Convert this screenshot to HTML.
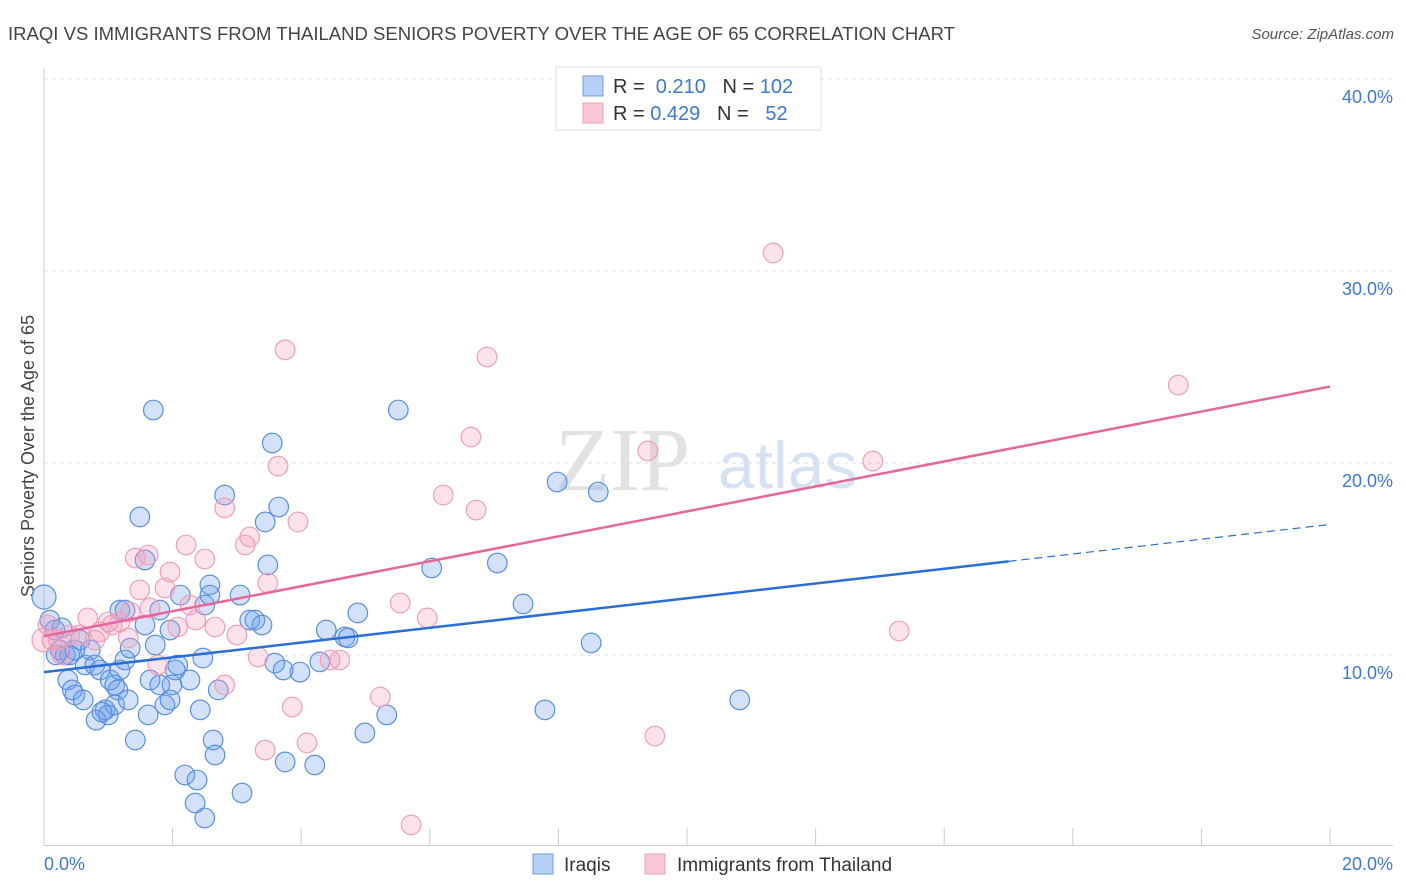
<!DOCTYPE html>
<html><head><meta charset="utf-8"><style>
body{margin:0;background:#fff;font-family:"Liberation Sans",sans-serif;}
svg{display:block}
</style></head><body>
<svg id="chart" width="1406" height="892">
<text x="8" y="40" font-size="18" fill="#444" textLength="947" lengthAdjust="spacingAndGlyphs">IRAQI VS IMMIGRANTS FROM THAILAND SENIORS POVERTY OVER THE AGE OF 65 CORRELATION CHART</text>
<text x="1394" y="39" font-size="15" fill="#555" font-style="italic" text-anchor="end">Source: ZipAtlas.com</text>
<g>
<text x="555" y="490" font-size="90" font-family="Liberation Serif,serif" fill="#e2e2e2">ZIP</text>
<text x="718" y="488" font-size="66" fill="#d6e2f4">atlas</text>
</g>
<g id="grid"></g>
<line x1="44" y1="68" x2="44" y2="846" stroke="#ccc"/>
<line x1="44" y1="845.5" x2="1393" y2="845.5" stroke="#ccc"/>
<text transform="translate(34,456) rotate(-90)" font-size="18" fill="#444" text-anchor="middle">Seniors Poverty Over the Age of 65</text>
<text x="44" y="870" font-size="18" fill="#3b78d8">0.0%</text>
<text x="1393" y="870" font-size="18" fill="#3b78d8" text-anchor="end">20.0%</text>
<g id="pts"></g>
<g id="lines"></g>
<g>
<rect x="556" y="67" width="265" height="63" fill="#fff" stroke="#ddd"/>
<rect x="583" y="76" width="20" height="20" fill="#b8d0f5" stroke="#6f9be0"/>
<rect x="583" y="103" width="20" height="20" fill="#f9c7d6" stroke="#eea0b8"/>
<text x="613" y="93" font-size="20" fill="#333">R = <tspan fill="#3b78d8">&#160;0.210</tspan>&#160;&#160;&#160;N = <tspan fill="#3b78d8">102</tspan></text>
<text x="613" y="120" font-size="20" fill="#333">R = <tspan fill="#3b78d8">0.429</tspan>&#160;&#160;&#160;N = <tspan fill="#3b78d8">&#160;&#160;52</tspan></text>
</g>
<g>
<rect x="533" y="854" width="20" height="20" fill="#b8d0f5" stroke="#6f9be0"/>
<text x="564" y="871" font-size="19" fill="#333">Iraqis</text>
<rect x="645" y="854" width="20" height="20" fill="#f9c7d6" stroke="#eea0b8"/>
<text x="677" y="871" font-size="19" fill="#333">Immigrants from Thailand</text>
</g>
</svg>
<script>
const yTicks=[10,20,30,40];
const yTickLabels=["10.0%","20.0%","30.0%","40.0%"];
const xTicks=[2,4,6,8,10,12,14,16,18,20];
const blueX=[0.00,0.09,0.17,0.25,0.33,0.40,0.48,0.37,0.44,0.48,0.61,0.64,0.72,0.79,0.87,0.95,1.00,1.03,1.10,1.15,1.10,1.18,1.26,1.31,1.18,1.26,1.42,1.49,1.57,1.57,1.62,1.65,1.70,1.73,1.80,1.80,1.88,1.96,1.99,2.04,2.08,2.12,2.19,2.27,2.35,2.38,2.43,2.47,2.50,2.50,2.58,2.63,2.66,2.71,2.81,3.05,3.08,3.20,3.28,3.39,3.44,3.48,3.55,3.59,3.65,3.72,3.75,3.98,4.21,4.29,4.39,4.68,4.73,4.88,4.99,5.33,5.51,6.03,7.05,7.45,7.79,7.98,8.51,8.62,10.82,0.19,0.28,0.56,0.81,0.90,1.34,1.96,2.58];
const blueY=[13.02,11.82,11.30,10.26,10.00,10.00,10.26,8.70,8.18,7.92,7.66,9.48,10.26,9.48,9.22,7.14,6.88,8.70,8.44,8.18,7.40,9.22,9.74,7.66,12.34,12.34,5.57,17.19,14.95,11.56,6.88,8.70,22.76,10.52,12.34,8.44,7.40,7.66,8.44,9.22,9.48,13.12,3.75,8.70,2.29,3.49,7.14,9.84,1.51,12.60,13.65,5.57,4.79,8.18,18.33,13.12,2.81,11.82,11.82,11.56,16.93,14.69,21.04,9.58,17.71,9.22,4.43,9.11,4.27,9.64,11.30,10.94,10.89,12.19,5.94,6.88,22.76,14.53,14.79,12.66,7.14,19.01,10.63,18.49,7.66,10.00,11.41,10.78,6.61,7.03,10.36,11.30,13.12];
const pinkX=[0.00,0.06,0.12,0.22,0.28,0.40,0.56,0.68,0.79,0.87,1.00,1.06,1.18,1.34,1.31,1.42,1.49,1.62,1.65,1.77,1.88,1.96,2.08,2.21,2.27,2.36,2.50,2.66,2.81,2.81,3.00,3.13,3.20,3.33,3.44,3.48,3.64,3.75,3.86,3.95,4.09,4.45,4.60,5.23,5.54,5.71,5.96,6.21,6.64,6.72,6.89,9.39,9.50,11.34,12.89,13.30,17.64];
const pinkY=[10.78,11.56,10.78,10.78,10.00,11.04,11.04,11.93,10.78,11.20,11.72,11.56,11.72,12.24,10.89,15.05,13.39,15.21,12.45,9.48,13.49,14.32,11.46,15.73,12.60,11.82,15.00,11.46,17.66,8.44,11.04,15.73,16.15,9.90,5.05,13.75,19.84,25.89,7.29,16.93,5.42,9.74,9.74,7.81,12.71,1.15,11.93,18.33,21.35,17.55,25.52,20.63,5.78,30.94,20.10,11.25,24.06];
const blueFit=[9.11,16.8]; // trend value at x=0 and x=20
const pinkFit=[10.98,23.98];
const NS="http://www.w3.org/2000/svg";
const sx=v=>44+v*64.3, sy=v=>847-v*19.2;
function mk(tag,attrs,parent){const e=document.createElementNS(NS,tag);for(const k in attrs)e.setAttribute(k,attrs[k]);parent.appendChild(e);return e;}
const grid=document.getElementById('grid');
yTicks.forEach((t,i)=>{
 const l=mk('line',{x1:44,x2:1393,y1:sy(t),y2:sy(t),stroke:'#ddd','stroke-dasharray':'4,4'},grid);
 
 
 const tx=mk('text',{x:1393,y:sy(t)+24,'font-size':18,fill:'#3b78d8','text-anchor':'end'},grid);
 tx.textContent=yTickLabels[i];
 
 
});
xTicks.forEach(t=>{
 const l=mk('line',{x1:sx(t),x2:sx(t),y1:828,y2:846,stroke:'#ccc'},grid);
 
 
});
const pts=document.getElementById('pts');
blueX.forEach((x,i)=>{
 const c=mk('circle',{cx:sx(x),cy:sy(blueY[i]),r:i==0?12:9.8,fill:'rgba(110,160,235,0.3)',stroke:'#5a8fe0','stroke-width':1.2},pts);
 
 
});
pinkX.forEach((x,i)=>{
 const c=mk('circle',{cx:sx(x),cy:sy(pinkY[i]),r:i==0?12:9.8,fill:'rgba(242,160,190,0.3)',stroke:'#ee9fb9','stroke-width':1.2},pts);
 
 
});
const lines=document.getElementById('lines');
const bAt=x=>blueFit[0]+(blueFit[1]-blueFit[0])*x/20;
let l1=mk('line',{x1:sx(0),y1:sy(bAt(0)),x2:sx(15),y2:sy(bAt(15)),stroke:'#2a6fd6','stroke-width':2.5},lines);


let l2=mk('line',{x1:sx(15),y1:sy(bAt(15)),x2:sx(20),y2:sy(bAt(20)),stroke:'#2a6fd6','stroke-width':1.2,'stroke-dasharray':'8,5'},lines);


let l3=mk('line',{x1:sx(0),y1:sy(pinkFit[0]),x2:sx(20),y2:sy(pinkFit[1]),stroke:'#e8679a','stroke-width':2.5},lines);


</script>
</body></html>
